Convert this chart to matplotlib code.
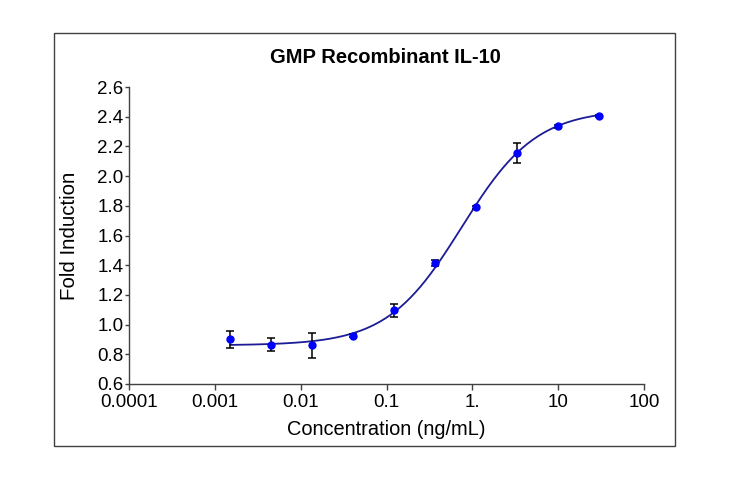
import numpy as np
import matplotlib
matplotlib.use('Agg')
from matplotlib import pyplot as plt
from matplotlib.patches import Rectangle
from matplotlib.ticker import FixedLocator, FixedFormatter

plt.rcParams['font.family'] = ['Liberation Sans', 'DejaVu Sans']

# measured points (3-fold dilution series)
conc = [0.00152, 0.00457, 0.0137, 0.0412, 0.123, 0.370, 1.11, 3.33, 10.0, 30.0]
fold = [0.90, 0.865, 0.86, 0.925, 1.095, 1.415, 1.79, 2.155, 2.335, 2.405]
err = [0.06, 0.045, 0.085, 0.01, 0.045, 0.02, 0.01, 0.065, 0.01, 0.006]

# 4-parameter logistic fit
bottom, top, ec50, hill = 0.86, 2.45, 0.75, 1.0

x_ticks = [0.0001, 0.001, 0.01, 0.1, 1, 10, 100]
x_ticklabels = ['0.0001', '0.001', '0.01', '0.1', '1.', '10', '100']
y_ticks = [0.6, 0.8, 1.0, 1.2, 1.4, 1.6, 1.8, 2.0, 2.2, 2.4, 2.6]

fig = plt.figure(figsize=(7.3, 4.78), dpi=100)
ax = fig.add_axes([129 / 730, 1 - 384 / 478, (644 - 129) / 730, (384 - 87) / 478])

# outer frame
fig.patches.append(Rectangle((54 / 730, 1 - 446 / 478), (675 - 54) / 730, (446 - 33) / 478,
                             transform=fig.transFigure, fill=False, edgecolor='#404040', lw=1.0))

xs = np.logspace(np.log10(conc[0]), np.log10(conc[-1]), 300)
ys = bottom + (top - bottom) / (1 + (ec50 / xs) ** hill)
ax.plot(xs, ys, color='#1c1c96', lw=1.3, zorder=2)

ax.errorbar(conc, fold, yerr=err, fmt='none', ecolor='black', elinewidth=1.1,
            capsize=3.2, capthick=1.1, zorder=3)
ax.plot(conc, fold, 'o', color='#0000ff', ms=5, mec='#0000ff', zorder=4)

ax.set_xscale('log')
ax.set_xlim(0.0001, 100)
ax.set_ylim(0.6, 2.6)
ax.xaxis.set_major_locator(FixedLocator(x_ticks))
ax.xaxis.set_major_formatter(FixedFormatter(x_ticklabels))
ax.xaxis.set_minor_locator(FixedLocator([]))
ax.set_yticks(y_ticks)
ax.set_yticklabels(['%.1f' % v for v in y_ticks])

for s in ['top', 'right']:
    ax.spines[s].set_visible(False)
for s in ['left', 'bottom']:
    ax.spines[s].set_color('#404040')
    ax.spines[s].set_linewidth(1.0)

ax.tick_params(axis='x', direction='out', length=4, width=1, color='#404040',
               labelsize=13.5, pad=3)
ax.tick_params(axis='y', direction='out', length=3, width=1, color='#404040',
               labelsize=13.5, pad=1)

ax.set_xlabel('Concentration (ng/mL)', fontsize=14.4, labelpad=7)
ax.set_ylabel('Fold Induction', fontsize=14.8, labelpad=13)
fig.text(385 / 730, 1 - 57 / 478, 'GMP Recombinant IL-10', ha='center', va='center',
         fontsize=14.5, fontweight='bold')

plt.savefig('out.png', dpi=100)
